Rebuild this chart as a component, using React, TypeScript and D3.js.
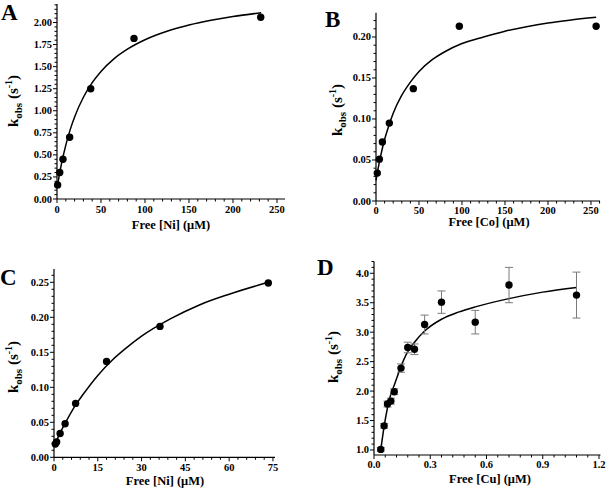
import React from 'react';
import * as d3 from 'd3';

// Panel A — Ni
const aPointsX = [0.7, 3.1, 6.8, 14.4, 38.3, 87.5, 231.5];
const aPointsY = [0.16, 0.30, 0.45, 0.70, 1.25, 1.82, 2.06];
const aFitX = [0, 2, 5, 10, 15, 20, 30, 40, 50, 65, 80, 100, 125, 150, 175, 200, 232];
const aFitY = [0.12, 0.238, 0.395, 0.611, 0.786, 0.93, 1.153, 1.319, 1.446, 1.591, 1.698, 1.805, 1.901, 1.971, 2.025, 2.068, 2.111];
const aXTicks = [0, 50, 100, 150, 200, 250];
const aXLabels = ['0', '50', '100', '150', '200', '250'];
const aYTicks = [0, 0.25, 0.5, 0.75, 1.0, 1.25, 1.5, 1.75, 2.0];
const aYLabels = ['0.00', '0.25', '0.50', '0.75', '1.00', '1.25', '1.50', '1.75', '2.00'];

// Panel B — Co
const bPointsX = [1.5, 3.9, 7.4, 15.5, 43.4, 96.9, 256];
const bPointsY = [0.034, 0.051, 0.072, 0.095, 0.137, 0.213, 0.213];
const bFitX = [0, 2, 5, 10, 15, 20, 30, 40, 50, 65, 80, 100, 125, 150, 175, 200, 225, 256];
const bFitY = [0.025, 0.037, 0.053, 0.075, 0.092, 0.107, 0.129, 0.145, 0.158, 0.172, 0.182, 0.192, 0.2, 0.207, 0.2125, 0.217, 0.2205, 0.224];
const bXTicks = [0, 50, 100, 150, 200, 250];
const bXLabels = ['0', '50', '100', '150', '200', '250'];
const bYTicks = [0, 0.05, 0.1, 0.15, 0.2];
const bYLabels = ['0.00', '0.05', '0.10', '0.15', '0.20'];

// Panel C — Ni
const cPointsX = [0.45, 0.9, 2.1, 3.8, 7.4, 18.0, 36.3, 73.4];
const cPointsY = [0.019, 0.022, 0.034, 0.048, 0.077, 0.137, 0.187, 0.249];
const cFitX = [0, 1, 2, 4, 7, 10, 15, 20, 25, 30, 40, 50, 60, 73.4];
const cFitY = [0.016, 0.025, 0.034, 0.05, 0.072, 0.09, 0.117, 0.139, 0.157, 0.173, 0.198, 0.218, 0.233, 0.25];
const cXTicks = [0, 15, 30, 45, 60, 75];
const cXLabels = ['0', '15', '30', '45', '60', '75'];
const cYTicks = [0, 0.05, 0.1, 0.15, 0.2, 0.25];
const cYLabels = ['0.00', '0.05', '0.10', '0.15', '0.20', '0.25'];

// Panel D — Cu
const dPointsX = [0.036, 0.054, 0.072, 0.09, 0.108, 0.144, 0.18, 0.216, 0.27, 0.36, 0.54, 0.72, 1.08];
const dPointsY = [1.01, 1.41, 1.78, 1.83, 1.99, 2.39, 2.74, 2.71, 3.13, 3.51, 3.17, 3.8, 3.63];
const dErr = [0.03, 0.04, 0.05, 0.05, 0.05, 0.07, 0.09, 0.09, 0.16, 0.19, 0.2, 0.3, 0.39];
const dFitX = [0.036, 0.054, 0.072, 0.09, 0.108, 0.144, 0.18, 0.216, 0.27, 0.36, 0.45, 0.54, 0.72, 0.9, 1.08];
const dFitY = [1.0, 1.4, 1.72, 1.95, 2.1, 2.42, 2.67, 2.83, 3.02, 3.22, 3.34, 3.43, 3.57, 3.68, 3.76];
const dXTicks = [0, 0.3, 0.6, 0.9, 1.2];
const dXLabels = ['0.0', '0.3', '0.6', '0.9', '1.2'];
const dYTicks = [1.0, 1.5, 2.0, 2.5, 3.0, 3.5, 4.0];
const dYLabels = ['1.0', '1.5', '2.0', '2.5', '3.0', '3.5', '4.0'];

const FONT = '"Liberation Serif", "Times New Roman", serif';

type PanelProps = {
  letter: string; lx: number; ly: number;
  xDom: [number, number]; xRange: [number, number];
  yDom: [number, number]; yRange: [number, number];
  xTicks: number[]; xLabels: string[]; xMinor: number;
  yTicks: number[]; yLabels: string[]; yMinor: number;
  xLabelY: number; xTitle: string; xTitleX: number; xTitleY: number;
  yTitleX: number; yTitleY: number;
  px: number[]; py: number[]; err?: number[];
  fx: number[]; fy: number[];
};

function minors(dom: [number, number], step: number, majors: number[]) {
  const out: number[] = [];
  const start = Math.ceil(dom[0] / step - 1e-6);
  for (let i = start; i * step <= dom[1] + 1e-9; i++) {
    const v = +(i * step).toFixed(6);
    if (!majors.some((m) => Math.abs(m - v) < step / 10)) out.push(v);
  }
  return out;
}

function Panel(p: PanelProps) {
  const x = d3.scaleLinear().domain(p.xDom).range(p.xRange);
  const y = d3.scaleLinear().domain(p.yDom).range(p.yRange);
  const x0 = p.xRange[0];
  const y0 = p.yRange[0];
  const line = d3.line<number>().x((_, i) => x(p.fx[i])).y((_, i) => y(p.fy[i])).curve(d3.curveMonotoneX);
  const xm = minors(p.xDom, p.xMinor, p.xTicks);
  const ym = minors(p.yDom, p.yMinor, p.yTicks);
  return (
    <g fontFamily={FONT} fontWeight="bold" fill="#000">
      <text x={p.lx} y={p.ly} fontSize={23}>{p.letter}</text>
      <line x1={x0} x2={p.xRange[1]} y1={y0} y2={y0} stroke="#000" strokeWidth={1.2} />
      <line x1={x0} x2={x0} y1={y0} y2={p.yRange[1]} stroke="#000" strokeWidth={1.2} />
      {p.xTicks.map((t, i) => (
        <g key={'xt' + i}>
          <line x1={x(t)} x2={x(t)} y1={y0} y2={y0 + 4} stroke="#000" strokeWidth={1} />
          <text x={x(t)} y={p.xLabelY} fontSize={10.5} textAnchor="middle">{p.xLabels[i]}</text>
        </g>
      ))}
      {xm.map((t, i) => (
        <line key={'xm' + i} x1={x(t)} x2={x(t)} y1={y0} y2={y0 + 2.5} stroke="#000" strokeWidth={1} />
      ))}
      {p.yTicks.map((t, i) => (
        <g key={'yt' + i}>
          <line x1={x0 - 4} x2={x0} y1={y(t)} y2={y(t)} stroke="#000" strokeWidth={1} />
          <text x={x0 - 5} y={y(t) + 3.5} fontSize={10.5} textAnchor="end">{p.yLabels[i]}</text>
        </g>
      ))}
      {ym.map((t, i) => (
        <line key={'ym' + i} x1={x0 - 2.5} x2={x0} y1={y(t)} y2={y(t)} stroke="#000" strokeWidth={1} />
      ))}
      <text x={p.xTitleX} y={p.xTitleY} fontSize={12.5} textAnchor="middle">{p.xTitle}</text>
      <text transform={`translate(${p.yTitleX},${p.yTitleY}) rotate(-90)`} fontSize={15} textAnchor="middle">
        k<tspan dy={3.5} fontSize={11}>obs</tspan>
        <tspan dy={-3.5}> (s</tspan>
        <tspan dy={-6} fontSize={10}>-1</tspan>
        <tspan dy={6}>)</tspan>
      </text>
      <path d={line(p.fx) || ''} fill="none" stroke="#000" strokeWidth={1.5} />
      {p.err && p.px.map((v, i) => (
        <g key={'e' + i} stroke="#7a7a7a" strokeWidth={1}>
          <line x1={x(v)} x2={x(v)} y1={y(p.py[i] - p.err![i])} y2={y(p.py[i] + p.err![i])} />
          <line x1={x(v) - 4} x2={x(v) + 4} y1={y(p.py[i] - p.err![i])} y2={y(p.py[i] - p.err![i])} />
          <line x1={x(v) - 4} x2={x(v) + 4} y1={y(p.py[i] + p.err![i])} y2={y(p.py[i] + p.err![i])} />
        </g>
      ))}
      {p.px.map((v, i) => (
        <circle key={'p' + i} cx={x(v)} cy={y(p.py[i])} r={3.7} fill="#000" />
      ))}
    </g>
  );
}

export default function App() {
  return (
    <svg width={608} height={489} style={{ position: 'absolute', left: 0, top: 0, background: '#fff' }}>
      <rect width={608} height={489} fill="#fff" />
      <Panel letter="A" lx={1} ly={20}
        xDom={[0, 259.1]} xRange={[57, 285]} yDom={[0, 2.21]} yRange={[199, 4]}
        xTicks={aXTicks} xLabels={aXLabels} xMinor={10}
        yTicks={aYTicks} yLabels={aYLabels} yMinor={0.05}
        xLabelY={213} xTitle="Free [Ni] (μM)" xTitleX={171} xTitleY={229}
        yTitleX={18} yTitleY={101}
        px={aPointsX} py={aPointsY} fx={aFitX} fy={aFitY} />
      <Panel letter="B" lx={325} ly={27}
        xDom={[0, 260.5]} xRange={[376, 600]} yDom={[0, 0.2296]} yRange={[201, 12.7]}
        xTicks={bXTicks} xLabels={bXLabels} xMinor={10}
        yTicks={bYTicks} yLabels={bYLabels} yMinor={0.01}
        xLabelY={213.5} xTitle="Free [Co] (μM)" xTitleX={489} xTitleY={226}
        yTitleX={342} yTitleY={110}
        px={bPointsX} py={bPointsY} fx={bFitX} fy={bFitY} />
      <Panel letter="C" lx={0} ly={285}
        xDom={[0, 75.7]} xRange={[54, 275]} yDom={[0, 0.269]} yRange={[457.3, 269]}
        xTicks={cXTicks} xLabels={cXLabels} xMinor={3}
        yTicks={cYTicks} yLabels={cYLabels} yMinor={0.01}
        xLabelY={470.5} xTitle="Free [Ni] (μM)" xTitleX={165} xTitleY={485}
        yTitleX={18} yTitleY={367}
        px={cPointsX} py={cPointsY} fx={cFitX} fy={cFitY} />
      <Panel letter="D" lx={317} ly={275}
        xDom={[0, 1.208]} xRange={[374, 600.5]} yDom={[0.915, 4.2]} yRange={[455, 261.5]}
        xTicks={dXTicks} xLabels={dXLabels} xMinor={0.06}
        yTicks={dYTicks} yLabels={dYLabels} yMinor={0.1}
        xLabelY={467.5} xTitle="Free [Cu] (μM)" xTitleX={490} xTitleY={483}
        yTitleX={338} yTitleY={357}
        px={dPointsX} py={dPointsY} err={dErr} fx={dFitX} fy={dFitY} />
    </svg>
  );
}
